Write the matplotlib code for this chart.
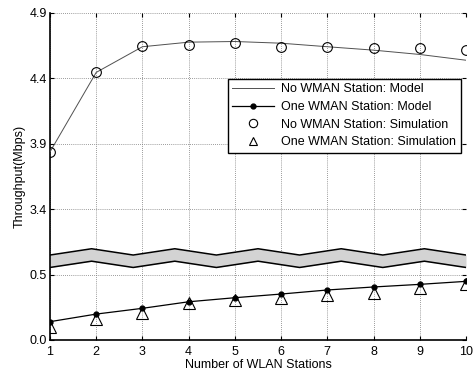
import numpy as np
import matplotlib
matplotlib.use("Agg")
import matplotlib.pyplot as plt

plt.rcParams['font.family'] = ['Liberation Sans', 'DejaVu Sans']

stations = [1, 2, 3, 4, 5, 6, 7, 8, 9, 10]
no_wman_model = [3.837, 4.444, 4.640, 4.675, 4.680, 4.667, 4.640, 4.614, 4.581, 4.537]
no_wman_sim = [3.837, 4.444, 4.642, 4.652, 4.665, 4.639, 4.639, 4.631, 4.627, 4.614]
one_wman_model = [0.140, 0.198, 0.242, 0.292, 0.323, 0.351, 0.382, 0.405, 0.425, 0.448]
one_wman_sim = [0.100, 0.160, 0.208, 0.285, 0.305, 0.323, 0.343, 0.361, 0.395, 0.425]
ytick_labels = ['0.0', '0.5', '3.4', '3.9', '4.4', '4.9']
ytick_values = [0.0, 0.5, 3.4, 3.9, 4.4, 4.9]

BREAK_OFFSET = 2.4  # values above the break are shifted down by this amount


def fwd(v):
    v = np.asarray(v, dtype=float)
    return np.where(v > 2.0, v - BREAK_OFFSET, v)


fig = plt.figure(figsize=(4.74, 3.73), dpi=100)
ax = fig.add_axes([50/474, 1-340/373, 416/474, (340-12.7)/373])

grid_kw = dict(color='#7a7a7a', lw=0.6, ls=(0, (1, 1.5)), zorder=0)
for x in stations:
    ax.axvline(x, **grid_kw)
for y in fwd(ytick_values):
    ax.axhline(y, **grid_kw)

# zigzag break band
zx = np.linspace(1, 10, 11)
top = np.where(np.arange(11) % 2 == 0, 0.649, 0.697)
bot = top - 0.095
ax.fill_between(zx, bot, top, color='#d3d3d3', zorder=2, lw=0)
ax.plot(zx, top, color='black', lw=1.1, zorder=3)
ax.plot(zx, bot, color='black', lw=1.1, zorder=3)

l1, = ax.plot(stations, fwd(no_wman_model), color='#505050', lw=0.7, zorder=4,
              label='No WMAN Station: Model')
l2, = ax.plot(stations, fwd(one_wman_model), color='black', lw=0.9, marker='o',
              markersize=3.5, zorder=4, label='One WMAN Station: Model')
l3, = ax.plot(stations, fwd(no_wman_sim), ls='none', marker='o', markersize=7,
              markerfacecolor='none', markeredgecolor='black', markeredgewidth=0.8,
              zorder=5, label='No WMAN Station: Simulation')
l4, = ax.plot(stations, fwd(one_wman_sim), ls='none', marker='^', markersize=8,
              markerfacecolor='none', markeredgecolor='black', markeredgewidth=0.8,
              zorder=5, label='One WMAN Station: Simulation')

ax.set_xlim(1, 10)
ax.set_ylim(0, fwd([4.9])[0])
ax.set_xticks(stations)
ax.set_yticks(fwd(ytick_values))
ax.set_yticklabels(ytick_labels)
ax.tick_params(direction='in', length=3, width=0.8, labelsize=9,
               top=True, right=True, colors='black')
ax.tick_params(axis='x', pad=4)
ax.tick_params(axis='y', pad=2)

for s in ['top', 'right']:
    ax.spines[s].set_visible(False)
for s in ['left', 'bottom']:
    ax.spines[s].set_linewidth(1.2)

ax.set_xlabel('Number of WLAN Stations', fontsize=9, labelpad=1)
ax.set_ylabel('Throughput(Mbps)', fontsize=9, labelpad=3)

leg = ax.legend(handles=[l1, l2, l3, l4], loc='upper left',
                bbox_to_anchor=(228/474, 1-79/373), bbox_transform=fig.transFigure,
                fontsize=9, frameon=True, fancybox=False, framealpha=1,
                edgecolor='black', borderpad=0.35, labelspacing=0.45,
                handlelength=3.3, handletextpad=0.6, borderaxespad=0)
leg.get_frame().set_linewidth(1.0)
for h in leg.legend_handles[2:]:
    h.set_markersize(6)

fig.savefig('out.png', dpi=100)
